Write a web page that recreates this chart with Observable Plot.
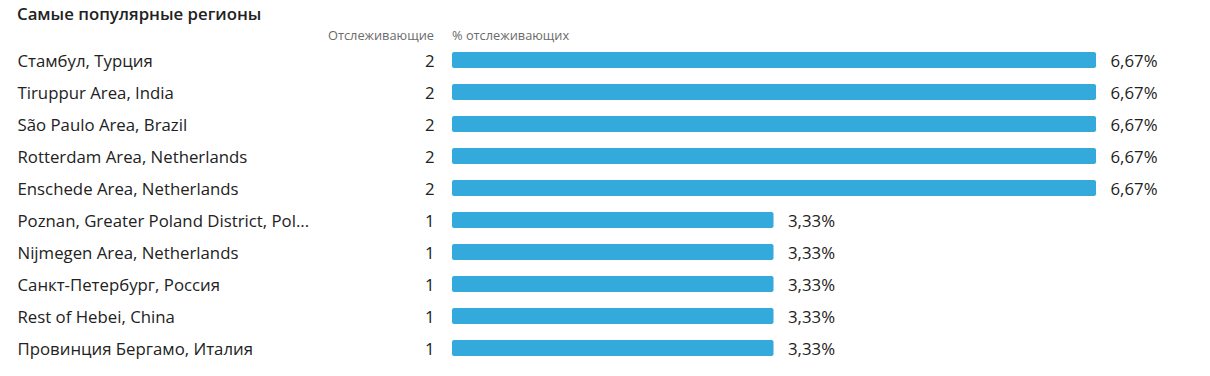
<!DOCTYPE html>
<html><head><meta charset="utf-8">
<script src="https://cdn.jsdelivr.net/npm/d3@7"></script>
<script src="https://cdn.jsdelivr.net/npm/@observablehq/plot@0.6"></script>
<style>
body{margin:0;background:#fff;font-family:"Open Sans","Noto Sans",sans-serif;}
#wrap{position:relative;width:1210px;height:376px;background:#fff;}
#title{position:absolute;left:17px;top:2px;font-size:16.8px;font-weight:600;color:#222;z-index:2;}
.hdr{position:absolute;top:26px;font-size:12.8px;color:#6b6b6b;z-index:2;white-space:nowrap;}
#h1{right:calc(1210px - 434px);}
#h2{left:452px;}
#chart{position:absolute;left:0;top:24px;z-index:1;}
</style></head><body>
<div id="wrap">
<div id="chart"></div>
<div id="title">Самые популярные регионы</div>
<div class="hdr" id="h1">Отслеживающие</div>
<div class="hdr" id="h2">% отслеживающих</div>
</div>
<script>
const regions = ["Стамбул, Турция","Tiruppur Area, India","São Paulo Area, Brazil","Rotterdam Area, Netherlands","Enschede Area, Netherlands","Poznan, Greater Poland District, Pol...","Nijmegen Area, Netherlands","Санкт-Петербург, Россия","Rest of Hebei, China","Провинция Бергамо, Италия"];
const followers = [2,2,2,2,2,1,1,1,1,1];
const percents = [6.67,6.67,6.67,6.67,6.67,3.33,3.33,3.33,3.33,3.33];
const percentLabels = ["6,67%","6,67%","6,67%","6,67%","6,67%","3,33%","3,33%","3,33%","3,33%","3,33%"];
const data = regions.map((r,i)=>({region:r, n:followers[i], p:percents[i], label:percentLabels[i]}));
const font = "'Open Sans','Noto Sans',sans-serif";
const fs = 16.8;
const chart = Plot.plot({
  width:1210, height:352,
  marginLeft:0, marginRight:0, marginTop:0, marginBottom:0,
  style:{fontFamily:font, background:"transparent"},
  x:{domain:[0,6.67], range:[452,1096], axis:null},
  y:{domain:regions, range:[20,340], paddingInner:0.5, paddingOuter:0.25, axis:null},
  marks:[
    Plot.barX(data,{x:"p", y:"region", fill:"#34a9db", rx:2}),
    Plot.text(data,{y:"region", text:"region", frameAnchor:"left", dx:17, dy:1, textAnchor:"start", fontSize:fs, fill:"#222"}),
    Plot.text(data,{y:"region", text:d=>String(d.n), frameAnchor:"left", dx:434, dy:1, textAnchor:"end", fontSize:fs, fill:"#222"}),
    Plot.text(data,{x:"p", y:"region", text:"label", dx:14, dy:1, textAnchor:"start", fontSize:fs, fill:"#222"})
  ]
});
document.getElementById("chart").appendChild(chart);
</script>
</body></html>
